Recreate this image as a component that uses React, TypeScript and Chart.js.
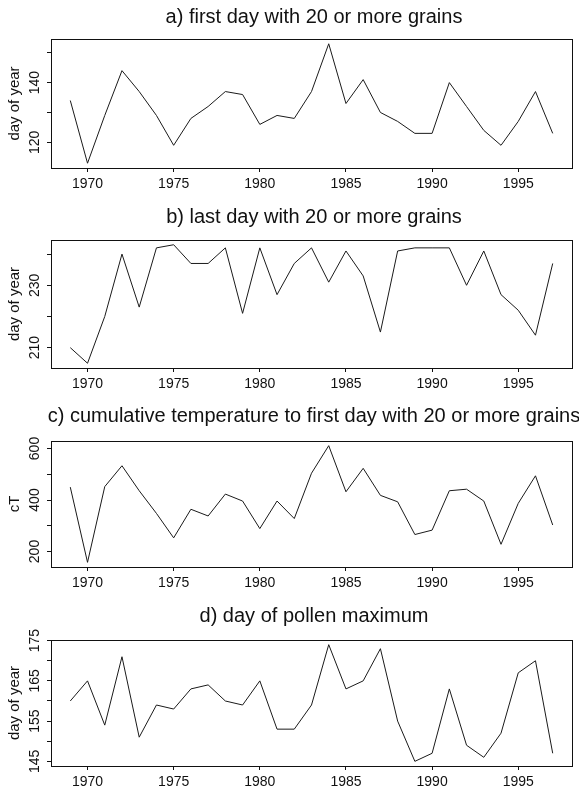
import React, { useEffect, useRef } from "react";
import { Chart, registerables } from "chart.js";

Chart.register(...registerables);
Chart.defaults.font.family = "'Liberation Sans', Arial, Helvetica, sans-serif";

const years = [
  1969, 1970, 1971, 1972, 1973, 1974, 1975, 1976, 1977, 1978, 1979, 1980, 1981, 1982, 1983,
  1984, 1985, 1986, 1987, 1988, 1989, 1990, 1991, 1992, 1993, 1994, 1995, 1996, 1997,
];

const firstDay = [
  134, 113, 129, 144, 137, 129, 119, 128, 132, 137, 136, 126, 129, 128, 137,
  153, 133, 141, 130, 127, 123, 123, 140, 132, 124, 119, 127, 137, 123,
];

const lastDay = [
  210, 205, 220, 240, 223, 242, 243, 237, 237, 242, 221, 242, 227, 237, 242,
  231, 241, 233, 215, 241, 242, 242, 242, 230, 241, 227, 222, 214, 237,
];

const cumTemp = [
  450, 158, 452, 533, 436, 348, 253, 364, 338, 423, 396, 289, 396, 328, 504,
  611, 432, 523, 418, 393, 266, 283, 436, 442, 396, 228, 387, 494, 303,
];

const pollenMax = [
  160, 165, 154, 171, 151, 159, 158, 163, 164, 160, 159, 165, 153, 153, 159,
  174, 163, 165, 173, 155, 145, 147, 163, 149, 146, 152, 167, 170, 147,
];

const xTicks = [1970, 1975, 1980, 1985, 1990, 1995];

const ticksA = [120, 130, 140, 150];
const labelsA = [120, 140];
const ticksB = [210, 220, 230, 240];
const labelsB = [210, 230];
const ticksC = [200, 300, 400, 500, 600];
const labelsC = [200, 400, 600];
const ticksD = [145, 150, 155, 160, 165, 170, 175];
const labelsD = [145, 155, 165, 175];

const titles = [
  "a) first day with 20 or more grains",
  "b) last day with 20 or more grains",
  "c) cumulative temperature to first day with 20 or more grains",
  "d) day of pollen maximum",
];
const yTitles = ["day of year", "day of year", "cT", "day of year"];

type Panel = {
  title: string;
  yTitle: string;
  values: number[];
  ticks: number[];
  labeled: number[];
  top: number;
  height: number;
  padTop: number;
  boxH: number;
  titleBase: number;
};

const panels: Panel[] = [
  { title: titles[0], yTitle: yTitles[0], values: firstDay, ticks: ticksA, labeled: labelsA, top: 0, height: 200, padTop: 39, boxH: 129, titleBase: 23 },
  { title: titles[1], yTitle: yTitles[1], values: lastDay, ticks: ticksB, labeled: labelsB, top: 200, height: 200, padTop: 40, boxH: 128, titleBase: 23 },
  { title: titles[2], yTitle: yTitles[2], values: cumTemp, ticks: ticksC, labeled: labelsC, top: 400, height: 198, padTop: 41, boxH: 126, titleBase: 22 },
  { title: titles[3], yTitle: yTitles[3], values: pollenMax, ticks: ticksD, labeled: labelsD, top: 598, height: 198, padTop: 42, boxH: 126, titleBase: 24 },
];

function PanelChart({ p }: { p: Panel }) {
  const ref = useRef<HTMLCanvasElement>(null);
  useEffect(() => {
    const lo = Math.min(...p.values);
    const hi = Math.max(...p.values);
    const r = hi - lo;
    const xr = years[years.length - 1] - years[0];
    const framePlugin = {
      id: "frame",
      afterDraw(chart: any) {
        const { ctx, chartArea } = chart;
        ctx.save();
        ctx.strokeStyle = "#111";
        ctx.lineWidth = 1;
        ctx.strokeRect(
          Math.round(chartArea.left) + 0.5,
          Math.round(chartArea.top) + 0.5,
          Math.round(chartArea.right - chartArea.left),
          Math.round(chartArea.bottom - chartArea.top)
        );
        ctx.fillStyle = "#111";
        ctx.font = "20px 'Liberation Sans', Arial, sans-serif";
        ctx.textAlign = "center";
        ctx.textBaseline = "alphabetic";
        ctx.fillText(p.title, (chartArea.left + chartArea.right) / 2 + 2.5, p.titleBase);
        ctx.restore();
      },
    };
    const chart = new Chart(ref.current!, {
      type: "line",
      data: {
        datasets: [
          {
            data: years.map((y, i) => ({ x: y, y: p.values[i] })),
            borderColor: "#1a1a1a",
            borderWidth: 1,
            pointRadius: 0,
            tension: 0,
            fill: false,
          },
        ],
      },
      options: {
        animation: false,
        responsive: false,
        layout: { padding: { top: p.padTop, right: 7, bottom: 0, left: 0 } },
        plugins: { legend: { display: false }, tooltip: { enabled: false }, title: { display: false } },
        scales: {
          x: {
            type: "linear",
            min: years[0] - xr * 0.04,
            max: years[years.length - 1] + xr * 0.04,
            afterBuildTicks: (s: any) => {
              s.ticks = xTicks.map((v) => ({ value: v }));
            },
            afterFit: (s: any) => {
              s.height = p.height - p.padTop - p.boxH;
            },
            grid: { display: true, drawOnChartArea: false, drawTicks: true, tickLength: 4, color: "#111", lineWidth: 1 },
            border: { display: false },
            ticks: {
              font: { size: 14 },
              color: "#111",
              padding: 4,
              autoSkip: false,
              maxRotation: 0,
              minRotation: 0,
              callback: (v: any) => String(v),
            },
          },
          y: {
            type: "linear",
            min: lo - r * 0.04,
            max: hi + r * 0.04,
            afterBuildTicks: (s: any) => {
              s.ticks = p.ticks.map((v) => ({ value: v }));
            },
            afterFit: (s: any) => {
              s.width = 51;
            },
            grid: { display: true, drawOnChartArea: false, drawTicks: true, tickLength: 4, color: "#111", lineWidth: 1 },
            border: { display: false },
            ticks: {
              font: { size: 14 },
              color: "#111",
              padding: 0,
              autoSkip: false,
              minRotation: 90,
              maxRotation: 90,
              crossAlign: "center",
              callback: (v: any) => (p.labeled.includes(Number(v)) ? String(v) : ""),
            },
            title: {
              display: true,
              text: p.yTitle,
              font: { size: 15 },
              color: "#111",
              padding: { top: 6, bottom: 0 },
            },
          },
        },
      } as any,
      plugins: [framePlugin],
    });
    return () => chart.destroy();
  }, [p]);
  return (
    <canvas
      ref={ref}
      width={579}
      height={p.height}
      style={{ position: "absolute", left: 0, top: p.top, width: 579, height: p.height, display: "block" }}
    />
  );
}

export default function App() {
  return (
    <div style={{ position: "absolute", left: 0, top: 0, width: 579, height: 796, background: "#fff" }}>
      {panels.map((p, i) => (
        <PanelChart key={i} p={p} />
      ))}
    </div>
  );
}
